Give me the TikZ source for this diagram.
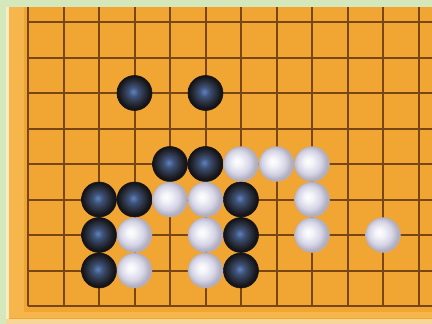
\documentclass[tikz,border=0pt]{standalone}
\definecolor{bg}{RGB}{212,232,188}
\definecolor{board}{RGB}{241,166,52}
\definecolor{boardlight}{RGB}{246,182,76}
\definecolor{cream}{RGB}{250,236,196}
\definecolor{gridc}{RGB}{120,70,20}
\definecolor{bsA}{RGB}{96,130,190}
\definecolor{bsB}{RGB}{62,82,120}
\definecolor{bsC}{RGB}{40,46,60}
\definecolor{bsD}{RGB}{20,20,24}
\definecolor{wsA}{RGB}{255,255,255}
\definecolor{wsB}{RGB}{242,242,248}
\definecolor{wsC}{RGB}{212,212,230}
\definecolor{wsD}{RGB}{178,175,192}
\pgfdeclareradialshading{blackstone}{\pgfpoint{-2bp}{2bp}}{color(0bp)=(bsA); color(7bp)=(bsB); color(16bp)=(bsC); color(23bp)=(bsD); color(25bp)=(bsD); color(50bp)=(bsD)}
\pgfdeclareradialshading{whitestone}{\pgfpoint{-6bp}{4bp}}{color(0bp)=(wsA); color(7bp)=(wsB); color(17bp)=(wsC); color(24bp)=(wsD); color(25bp)=(wsD); color(50bp)=(wsD)}
\tikzset{
  gridline/.style={draw=gridc, line width=2pt},
  bstone/.style={circle, minimum size=35pt, inner sep=0pt, shading=blackstone, draw=bsD, line width=0.6pt},
  wstone/.style={circle, minimum size=35pt, inner sep=0pt, shading=whitestone, draw=wsD!70!board, line width=0.6pt, draw opacity=0.6},
}
\begin{document}
\begin{tikzpicture}
\useasboundingbox (0,0) rectangle (432pt,-324pt);
\fill[bg] (0,0) rectangle (432pt,-324pt);
\fill[board] (6pt,-7pt) rectangle (432pt,-324pt);
\fill[boardlight] (9pt,-7pt) rectangle (24pt,-318pt);
\fill[boardlight] (9pt,-312pt) rectangle (432pt,-318pt);
\fill[cream] (6pt,-7pt) rectangle (9pt,-324pt);
\fill[cream!70!board] (6pt,-319pt) rectangle (432pt,-324pt);
\begin{scope}[shift={(28pt,-22pt)}, x=35.5pt, y=-35.5pt]
  \begin{scope}
  \clip (-0.62,-0.42) rectangle (11.4,8.1);
  \foreach \i in {0,...,11} \draw[gridline] (\i,-0.45) -- (\i,8);
  \foreach \j in {0,...,8} \draw[gridline] (0,\j) -- (11.5,\j);
  \end{scope}
  % black stones
  \node[bstone] (b1) at (3,2) {};
  \node[bstone] (b2) at (5,2) {};
  \node[bstone] (b3) at (4,4) {};
  \node[bstone] (b4) at (5,4) {};
  \node[bstone] (b5) at (2,5) {};
  \node[bstone] (b6) at (3,5) {};
  \node[bstone] (b7) at (6,5) {};
  \node[bstone] (b8) at (2,6) {};
  \node[bstone] (b9) at (6,6) {};
  \node[bstone] (b10) at (2,7) {};
  \node[bstone] (b11) at (6,7) {};
  % white stones
  \node[wstone] (w1) at (6,4) {};
  \node[wstone] (w2) at (7,4) {};
  \node[wstone] (w3) at (8,4) {};
  \node[wstone] (w4) at (4,5) {};
  \node[wstone] (w5) at (5,5) {};
  \node[wstone] (w6) at (8,5) {};
  \node[wstone] (w7) at (3,6) {};
  \node[wstone] (w8) at (5,6) {};
  \node[wstone] (w9) at (8,6) {};
  \node[wstone] (w10) at (10,6) {};
  \node[wstone] (w11) at (3,7) {};
  \node[wstone] (w12) at (5,7) {};
\end{scope}
\end{tikzpicture}
\end{document}
